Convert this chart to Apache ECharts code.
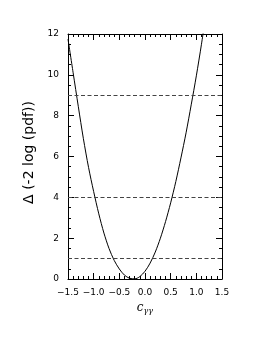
<!DOCTYPE html>
<html><head><meta charset="utf-8">
<script src="https://cdn.jsdelivr.net/npm/echarts@6/dist/echarts.min.js"></script>
<style>html,body{margin:0;padding:0;background:#fff}#c{width:258px;height:345px}</style>
</head><body><div id="c"></div>
<script>
const xValues = [-1.5,-1.4,-1.3,-1.2,-1.1,-1.0,-0.9,-0.8,-0.7,-0.6,-0.5,-0.4,-0.3,-0.2,-0.1,0.0,0.1,0.2,0.3,0.4,0.5,0.6,0.7,0.8,0.9,1.0,1.1,1.2];
const deltaValues = [11.75,10.1,8.46,6.87,5.47,4.28,3.19,2.25,1.49,0.91,0.49,0.19,0.035,0.006,0.12,0.38,0.78,1.32,2.0,2.81,3.73,4.77,5.93,7.16,8.53,9.95,11.5,13.2];
const refLevels = [1, 4, 9];
const xTicks = {min: -1.5, max: 1.5, interval: 0.5};
const yTicks = {min: 0, max: 12, interval: 2};

const data = xValues.map((x, i) => [x, deltaValues[i]]);
const fmtX = v => (Math.abs(v) < 1e-9 ? '0.0' : v.toFixed(1)).replace('-', '\u2212');
const font = 'DejaVu Sans';
const common = {
  axisLine: {show: true, onZero: false, lineStyle: {color: '#000', width: 1}},
  axisTick: {show: true, inside: true, length: 6, lineStyle: {color: '#000', width: 1}},
  minorTick: {show: true, length: 3, lineStyle: {color: '#000', width: 1}},
  splitLine: {show: false}
};
const chart = echarts.init(document.getElementById('c'), null, {renderer: 'canvas'});
chart.setOption({
  animation: false,
  grid: {left: 68, right: 36, top: 34, bottom: 66},
  xAxis: [
    Object.assign({type: 'value', position: 'bottom', min: xTicks.min, max: xTicks.max, interval: xTicks.interval,
      axisLabel: {color: '#000', fontFamily: font, fontSize: 9, margin: 9, formatter: fmtX},
      name: '{c|c}{s|\u03b3\u03b3}', nameLocation: 'middle', nameGap: 19,
      nameTextStyle: {rich: {
        c: {fontFamily: 'DejaVu Serif', fontStyle: 'italic', fontSize: 12, color: '#000'},
        s: {fontFamily: 'DejaVu Serif', fontStyle: 'italic', fontSize: 8, color: '#000', verticalAlign: 'bottom', padding: [6, 0, 0, 0]}
      }},
      minorTick: Object.assign({}, common.minorTick, {splitNumber: 5})
    }, {axisLine: common.axisLine, axisTick: common.axisTick, splitLine: common.splitLine}),
    Object.assign({type: 'value', position: 'top', min: xTicks.min, max: xTicks.max, interval: xTicks.interval,
      axisLabel: {show: false},
      minorTick: Object.assign({}, common.minorTick, {splitNumber: 5})
    }, {axisLine: common.axisLine, axisTick: common.axisTick, splitLine: common.splitLine})
  ],
  yAxis: [
    Object.assign({type: 'value', position: 'left', min: yTicks.min, max: yTicks.max, interval: yTicks.interval,
      axisLabel: {color: '#000', fontFamily: font, fontSize: 9, margin: 9},
      name: '\u0394 (-2 log (pdf))', nameLocation: 'middle', nameGap: 24, nameRotate: 90,
      nameTextStyle: {fontFamily: font, fontSize: 14, color: '#000', padding: [0, 0, 0, 8]},
      minorTick: Object.assign({}, common.minorTick, {splitNumber: 4})
    }, {axisLine: common.axisLine, axisTick: common.axisTick, splitLine: common.splitLine}),
    Object.assign({type: 'value', position: 'right', min: yTicks.min, max: yTicks.max, interval: yTicks.interval,
      axisLabel: {show: false},
      minorTick: Object.assign({}, common.minorTick, {splitNumber: 4})
    }, {axisLine: common.axisLine, axisTick: common.axisTick, splitLine: common.splitLine})
  ],
  series: [{
    type: 'line', data: data, xAxisIndex: 0, yAxisIndex: 0,
    showSymbol: false, smooth: 0.3, clip: true,
    lineStyle: {color: '#000', width: 1},
    markLine: {
      silent: true, symbol: 'none', label: {show: false},
      lineStyle: {color: '#444', type: [4, 2.5], width: 1},
      data: refLevels.map(v => ({yAxis: v}))
    }
  }]
});
</script></body></html>
